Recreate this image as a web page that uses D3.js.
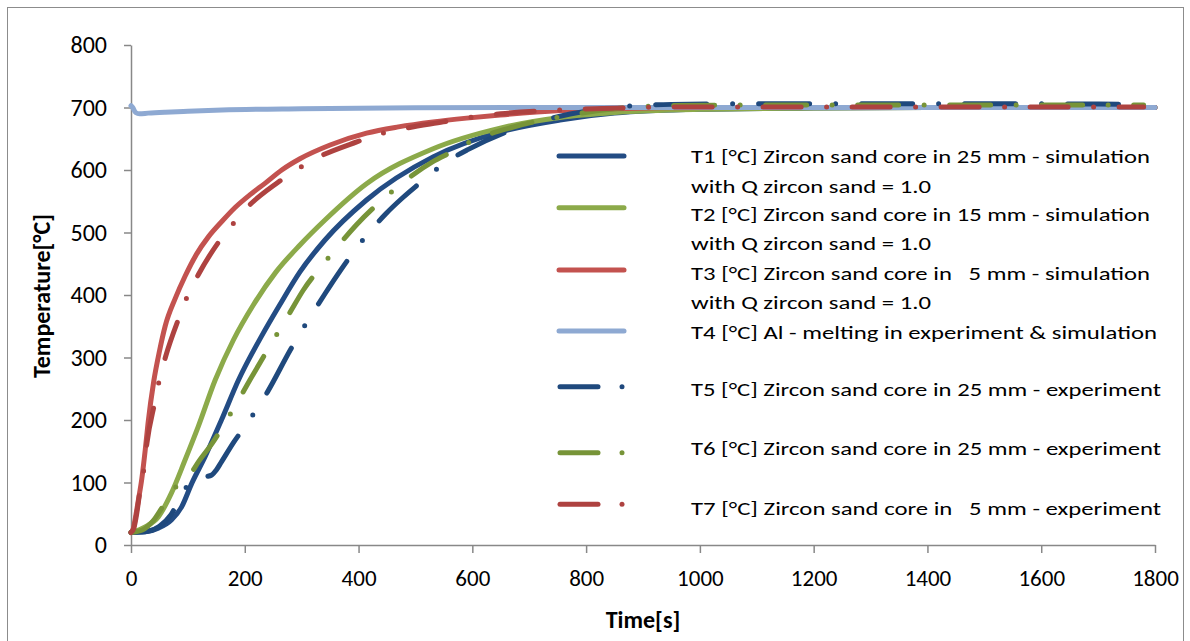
<!DOCTYPE html>
<html>
<head>
<meta charset="utf-8">
<script src="https://cdn.jsdelivr.net/npm/d3@7"></script>
<style>
  html, body { margin: 0; padding: 0; background: #ffffff; }
  svg { display: block; }
  text { font-family: Carlito, Lato, "Liberation Sans", sans-serif; fill: #000; }
</style>
</head>
<body>
<svg id="chart" width="1190" height="641"></svg>
<script>
// Axis ticks
const xTicks = [0, 200, 400, 600, 800, 1000, 1200, 1400, 1600, 1800];
const yTicks = [0, 100, 200, 300, 400, 500, 600, 700, 800];

// T1: 25 mm core, simulation
const t1Time = [0, 25, 48, 71, 89, 107, 130, 159, 189, 230, 260, 297, 341, 414, 531, 649, 754, 850, 1000, 1200, 1400, 1800];
const t1Temp = [20, 21, 27, 40, 61, 99, 141, 200, 264, 335, 382, 437, 488, 552, 621, 661, 680, 691, 697, 699, 700, 700];

// T2: 15 mm core, simulation
const t2Time = [0, 25, 48, 71, 95, 118, 148, 180, 215, 255, 297, 341, 414, 531, 649, 754, 850, 1000, 1200, 1400, 1800];
const t2Temp = [20, 29, 45, 83, 136, 189, 264, 328, 384, 437, 480, 520, 578, 634, 667, 684, 692, 697, 699, 700, 700];

// T3: 5 mm core, simulation
const t3Time = [0, 4, 8, 13, 19, 25, 30, 40, 50, 60, 78, 95, 115, 136, 160, 183, 210, 236, 265, 297, 350, 414, 470, 531, 590, 649, 754, 850, 1000, 1800];
const t3Temp = [20, 26, 45, 72, 106, 152, 195, 262, 310, 350, 395, 430, 465, 493, 518, 540, 561, 579, 600, 618, 640, 659, 669, 677, 683, 688, 695, 698, 700, 700];

// T4: Al melt
const t4Time = [0, 3, 8, 15, 30, 60, 100, 160, 300, 500, 800, 1800];
const t4Temp = [703, 700, 692, 690, 691, 692.5, 694, 696, 698, 699.5, 700, 700];

// T5: 25 mm core, experiment
const t5Time = [0, 30, 50, 70, 86, 100, 107, 115, 130, 142, 150, 159, 181, 202, 240, 280, 341, 362, 385, 448, 478, 501, 558, 593, 666, 754, 850, 950, 1100, 1500, 1780];
const t5Temp = [20, 22, 30, 48, 75, 96, 103, 107, 109, 112, 120, 133, 165, 192, 245, 312, 402, 431, 461, 530, 556, 574, 615, 633, 663, 686, 700, 705, 706, 706, 705];

// T6: 25 mm core, experiment
const t6Time = [0, 20, 40, 54, 77, 101, 120, 143, 165, 186, 209, 238, 259, 280, 303, 344, 369, 396, 454, 485, 530, 564, 596, 669, 754, 850, 950, 1100, 1780];
const t6Temp = [20, 24, 40, 59, 91, 109, 135, 163, 195, 227, 264, 309, 341, 373, 408, 456, 484, 512, 562, 585, 613, 629, 645, 668, 685, 698, 703, 704, 704];

// T7: 5 mm core, experiment
const t7Time = [0, 5, 10, 16, 23, 28, 42, 50, 61, 85, 100, 118, 159, 184, 200, 258, 326, 397, 435, 473, 549, 588, 650, 754, 850, 1000, 1780];
const t7Temp = [20, 27, 50, 88, 124, 163, 229, 265, 302, 365, 400, 432, 491, 519, 536, 580, 619, 645, 657, 665, 677, 683, 690, 696, 699, 701, 701];

const legendLabels = [
  ["T1 [°C] Zircon sand core in 25 mm - simulation", "with Q zircon sand = 1.0"],
  ["T2 [°C] Zircon sand core in 15 mm - simulation", "with Q zircon sand = 1.0"],
  ["T3 [°C] Zircon sand core in   5 mm - simulation", "with Q zircon sand = 1.0"],
  ["T4 [°C] Al - melting in experiment & simulation"],
  ["T5 [°C] Zircon sand core in 25 mm - experiment"],
  ["T6 [°C] Zircon sand core in 25 mm - experiment"],
  ["T7 [°C] Zircon sand core in   5 mm - experiment"]
];

const series = [
  { time: t1Time, temp: t1Temp, color: "#234C84", dash: null },
  { time: t2Time, temp: t2Temp, color: "#8CAA4A", dash: null },
  { time: t3Time, temp: t3Temp, color: "#C3524F", dash: null },
  { time: t4Time, temp: t4Temp, color: "#8EA9D2", dash: null },
  { time: t5Time, temp: t5Temp, color: "#1F497D", dash: "51 26 0 26" },
  { time: t6Time, temp: t6Temp, color: "#779438", dash: "41 25.5 0 25.5" },
  { time: t7Time, temp: t7Temp, color: "#AE4240", dash: "38 25.5 0 25.5" }
];

const svg = d3.select("#chart");

// outer chart frame
svg.append("rect")
  .attr("x", 7.5).attr("y", 7.5)
  .attr("width", 1176).attr("height", 700)
  .attr("fill", "#fff").attr("stroke", "#8c8c8c").attr("stroke-width", 1);

const x = d3.scaleLinear().domain([0, 1800]).range([131, 1155]);
const y = d3.scaleLinear().domain([0, 800]).range([545, 45]);

const axisColor = "#888888";
const tickFont = "Carlito, Lato, 'Liberation Sans', sans-serif";

// y axis
const yAxis = svg.append("g")
  .attr("transform", `translate(${x(0)},0)`)
  .call(d3.axisLeft(y).tickValues(yTicks).tickFormat(d3.format("d"))
    .tickSize(7).tickSizeOuter(0).tickPadding(17));
yAxis.select(".domain").attr("stroke", axisColor).attr("stroke-width", 1.5);
yAxis.selectAll(".tick line").attr("stroke", axisColor).attr("stroke-width", 1.5);
yAxis.selectAll(".tick text")
  .attr("font-size", 24)
  .attr("font-family", tickFont)
  .attr("fill", "#000");

// x axis
const xAxis = svg.append("g")
  .attr("transform", `translate(0,${y(0)})`)
  .call(d3.axisBottom(x).tickValues(xTicks).tickFormat(d3.format("d"))
    .tickSize(8).tickSizeOuter(0).tickPadding(17));
xAxis.select(".domain").attr("stroke", axisColor).attr("stroke-width", 1.5);
xAxis.selectAll(".tick line").attr("stroke", axisColor).attr("stroke-width", 1.5);
xAxis.selectAll(".tick text")
  .attr("font-size", 23)
  .attr("font-family", tickFont)
  .attr("fill", "#000");

// axis titles
svg.append("text")
  .attr("x", 643).attr("y", 620).attr("dy", "0.35em")
  .attr("text-anchor", "middle")
  .attr("font-size", 24).attr("font-weight", "bold")
  .text("Time[s]");

svg.append("text")
  .attr("transform", "translate(42,296) rotate(-90)")
  .attr("dy", "0.35em")
  .attr("text-anchor", "middle")
  .attr("font-size", 24).attr("font-weight", "bold")
  .text("Temperature[°C]");

// data lines
const line = d3.line()
  .x(d => x(d[0]))
  .y(d => y(d[1]))
  .curve(d3.curveMonotoneX);

const plot = svg.append("g");
series.forEach(s => {
  const pts = s.time.map((t, i) => [t, s.temp[i]]);
  const p = plot.append("path")
    .attr("d", line(pts))
    .attr("fill", "none")
    .attr("stroke", s.color)
    .attr("stroke-width", 5)
    .attr("stroke-linecap", "round")
    .attr("stroke-linejoin", "round");
  if (s.dash) p.attr("stroke-dasharray", s.dash);
});

// legend
const legend = svg.append("g");
legend.append("rect")
  .attr("x", 548).attr("y", 140).attr("width", 620).attr("height", 385)
  .attr("fill", "#fff");

const symbolY = [156, 207.7, 270, 331, 386.7, 452.7, 504.3];
const textY = [[156, 186.7], [214.3, 243.3], [273.3, 302.7], [332.7], [389.3], [448.3], [508.3]];
const textLen = [[459, 240], [459, 240], [459, 240], [466], [470], [470], [470]];

series.forEach((s, i) => {
  if (s.dash) {
    // long dash followed by a dot
    legend.append("line")
      .attr("x1", 560).attr("x2", 598)
      .attr("y1", symbolY[i]).attr("y2", symbolY[i])
      .attr("stroke", s.color).attr("stroke-width", 5)
      .attr("stroke-linecap", "round");
    legend.append("circle")
      .attr("cx", 622).attr("cy", symbolY[i]).attr("r", 2.5)
      .attr("fill", s.color);
  } else {
    legend.append("line")
      .attr("x1", 559).attr("x2", 624)
      .attr("y1", symbolY[i]).attr("y2", symbolY[i])
      .attr("stroke", s.color).attr("stroke-width", 5)
      .attr("stroke-linecap", "round");
  }
  legendLabels[i].forEach((lbl, j) => {
    legend.append("text")
      .attr("x", 691).attr("y", textY[i][j]).attr("dy", "0.35em")
      .attr("font-size", 19)
      .attr("xml:space", "preserve")
      .style("white-space", "pre")
      .attr("textLength", textLen[i][j])
      .attr("lengthAdjust", "spacingAndGlyphs")
      .text(lbl);
  });
});
</script>
</body>
</html>
